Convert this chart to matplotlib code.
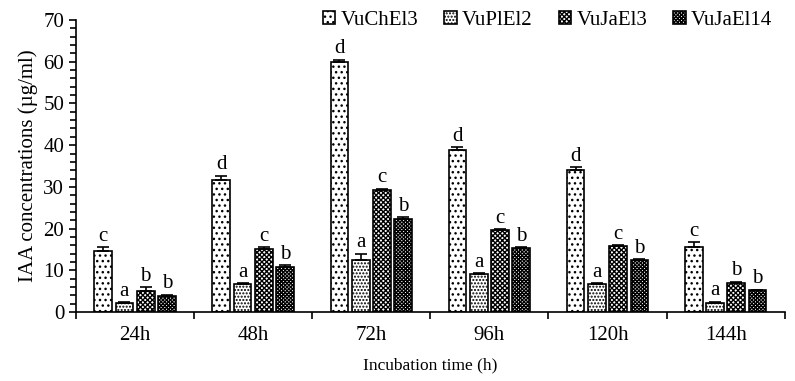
import matplotlib
matplotlib.use("Agg")
import matplotlib.pyplot as plt
import numpy as np

plt.rcParams['font.family'] = ['Liberation Serif', 'DejaVu Serif']
plt.rcParams['hatch.linewidth'] = 1.0

times = ["24h", "48h", "72h", "96h", "120h", "144h"]
series = ["VuChEl3", "VuPlEl2", "VuJaEl3", "VuJaEl14"]
vuchel3 = [14.7, 31.6, 60.0, 38.8, 34.0, 15.6]
vuplel2 = [2.1, 6.7, 12.5, 9.2, 6.7, 2.2]
vujael3 = [5.0, 15.0, 29.2, 19.6, 15.8, 6.9]
vujael14 = [3.9, 10.9, 22.4, 15.3, 12.4, 5.2]
err_vuchel3 = [0.8, 1.1, 0.5, 0.8, 0.7, 1.1]
err_vuplel2 = [0.3, 0.3, 1.5, 0.2, 0.3, 0.3]
err_vujael3 = [0.9, 0.6, 0.4, 0.3, 0.3, 0.4]
err_vujael14 = [0.3, 0.3, 0.3, 0.3, 0.3, 0.2]
let_vuchel3 = ["c", "d", "d", "d", "d", "c"]
let_vuplel2 = ["a", "a", "a", "a", "a", "a"]
let_vujael3 = ["b", "c", "c", "c", "c", "b"]
let_vujael14 = ["b", "b", "b", "b", "b", "b"]

values = [vuchel3, vuplel2, vujael3, vujael14]
errors = [err_vuchel3, err_vuplel2, err_vujael3, err_vujael14]
letters = [let_vuchel3, let_vuplel2, let_vujael3, let_vujael14]
hatches = ['...', '.....', 'xxxxxxx', 'xxxxxxxxx']

fig = plt.figure(figsize=(7.95, 3.81), dpi=100)
ax = fig.add_axes([0.0956, 0.181, 0.8914, 0.7665])

x = np.arange(len(times))
w = 0.15
step = 0.18
for i, (vals, errs, lets, h, name) in enumerate(zip(values, errors, letters, hatches, series)):
    pos = x + (i - 1.5) * step
    ax.bar(pos, vals, width=w, color='white', edgecolor='black', hatch=h,
           linewidth=1.2, label=name, zorder=2)
    ax.errorbar(pos, vals, yerr=[np.zeros(len(errs)), errs], fmt='none',
                ecolor='black', elinewidth=1.2, capsize=4, capthick=1.2, zorder=3)
    for p, v, e, l in zip(pos, vals, errs, lets):
        ax.text(p, v + e + 0.3, l, ha='center', va='bottom', fontsize=15)

ax.set_xlim(-0.5, 5.5)
ax.set_ylim(0, 70)
ax.set_yticks(np.arange(0, 71, 10))
ax.set_yticks(np.arange(0, 71, 2), minor=True)
ax.set_xticks(np.arange(-0.5, 5.6, 1))
ax.set_xticklabels([])
ax.set_xticks(x, minor=True)
ax.set_xticklabels(times, minor=True)
ax.tick_params(axis='x', which='minor', length=0, pad=10, labelsize=15)
ax.tick_params(axis='x', which='major', length=5, width=1.2, direction='out')
ax.tick_params(axis='y', which='major', length=5, width=1.2, direction='out', labelsize=15)
ax.tick_params(axis='y', which='minor', length=4, width=1.2, direction='out')
for s in ['top', 'right']:
    ax.spines[s].set_visible(False)
for s in ['left', 'bottom']:
    ax.spines[s].set_linewidth(1.2)

ax.set_ylabel("IAA concentrations (µg/ml)", fontsize=15, labelpad=4)
ax.set_xlabel("Incubation time (h)", fontsize=12.5, labelpad=9)

fig.legend(loc='upper right', bbox_to_anchor=(0.995, 1.02), ncol=4, frameon=False,
           fontsize=15, handlelength=0.6, handleheight=0.6, handletextpad=0.25,
           columnspacing=1.25)

fig.savefig("out.png", dpi=100)
